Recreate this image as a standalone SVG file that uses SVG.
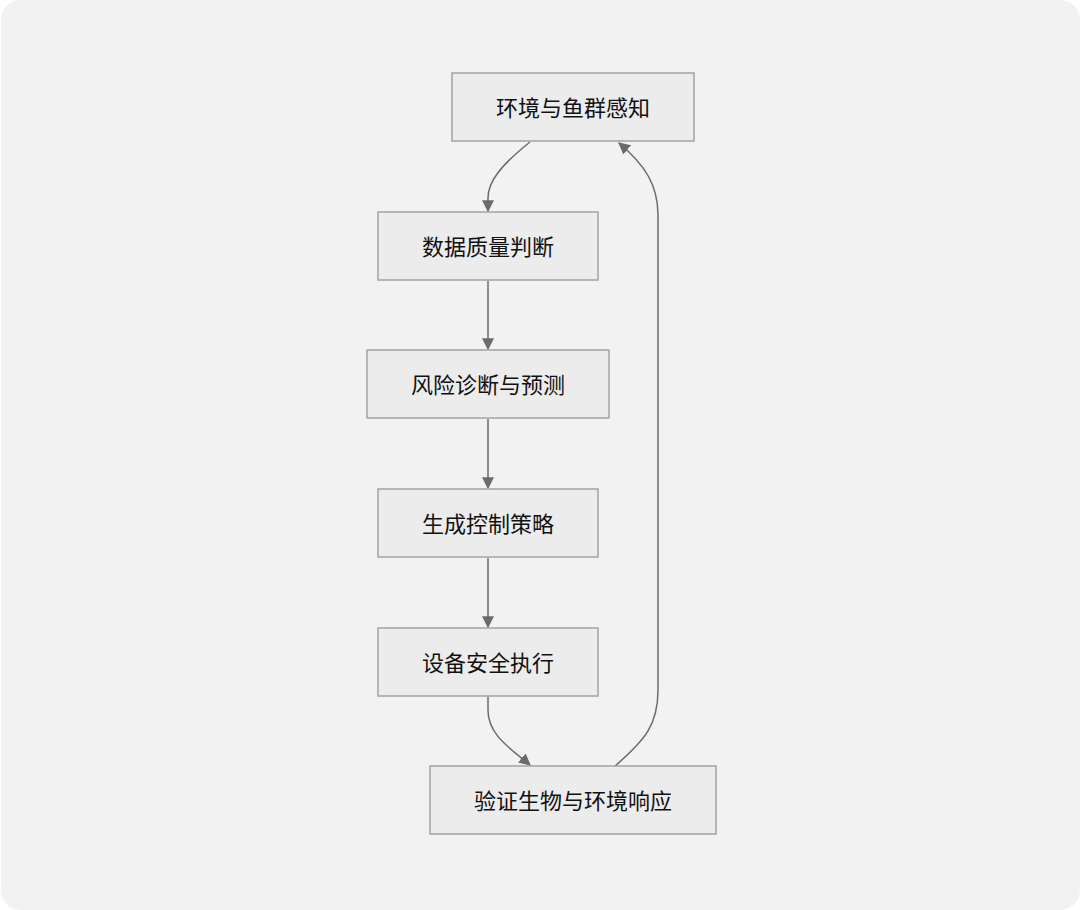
<svg xmlns="http://www.w3.org/2000/svg" width="1080" height="910" viewBox="0 0 1080 910">
<defs>
<style>
.node rect{fill:#ececec;stroke:#a3a3a3;stroke-width:1.5}
.node text{font-family:"Noto Sans CJK SC","Noto Sans",sans-serif;font-size:22px;fill:#111111;text-anchor:middle;dominant-baseline:central}
.edge{fill:none;stroke:#6b6b6b;stroke-width:1.5;marker-end:url(#arr)}
</style>
<marker id="arr" viewBox="0 0 10 10" refX="9" refY="5" markerWidth="12" markerHeight="12" markerUnits="userSpaceOnUse" orient="auto">
<path d="M0,0 L10,5 L0,10 z" fill="#6b6b6b"/>
</marker>
</defs>
<rect x="0" y="0" width="1080" height="910" fill="#ffffff"/>
<rect x="1" y="0" width="1079" height="910" rx="20" fill="#f2f2f2"/>
<g id="connectors">
<path class="edge" d="M530,142 C500,166 488,182 488,198 L488,211"/>
<path class="edge" d="M488,281 L488,349"/>
<path class="edge" d="M488,419 L488,488"/>
<path class="edge" d="M488,558 L488,627"/>
<path class="edge" d="M488,697 L488,710 C488,735 510,748 530,765"/>
<path class="edge" d="M615,766 C645,740 658,725 658,690 L658,215 C658,185 645,165 619,143"/>
</g>
<g id="n1" class="node"><rect x="452" y="73" width="242" height="68"/><text x="573" y="106">环境与鱼群感知</text></g>
<g id="n2" class="node"><rect x="378" y="212" width="220" height="68"/><text x="488" y="245">数据质量判断</text></g>
<g id="n3" class="node"><rect x="367" y="350" width="242" height="68"/><text x="488" y="383">风险诊断与预测</text></g>
<g id="n4" class="node"><rect x="378" y="489" width="220" height="68"/><text x="488" y="522">生成控制策略</text></g>
<g id="n5" class="node"><rect x="378" y="628" width="220" height="68"/><text x="488" y="661">设备安全执行</text></g>
<g id="n6" class="node"><rect x="430" y="766" width="286" height="68"/><text x="573" y="799">验证生物与环境响应</text></g>
</svg>
